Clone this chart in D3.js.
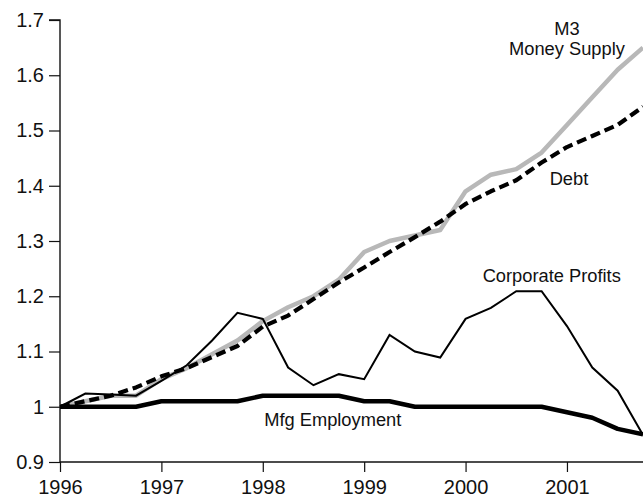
<!DOCTYPE html>
<html>
<head>
<meta charset="utf-8">
<script src="https://cdn.jsdelivr.net/npm/d3@7"></script>
<style>
  html, body { margin: 0; padding: 0; background: #fff; }
  svg { display: block; font-family: "Liberation Sans", Arial, Helvetica, sans-serif; }
</style>
</head>
<body>
<svg id="chart" width="643" height="498"></svg>
<script>
// Quarterly dates, 1996 Q1 .. 2001 Q4 (index = 1996 Q1 = 1.0)
const quarters = [1996.0, 1996.25, 1996.5, 1996.75, 1997.0, 1997.25, 1997.5, 1997.75,
                  1998.0, 1998.25, 1998.5, 1998.75, 1999.0, 1999.25, 1999.5, 1999.75,
                  2000.0, 2000.25, 2000.5, 2000.75, 2001.0, 2001.25, 2001.5, 2001.75];

const m3MoneySupply = [1.00, 1.01, 1.02, 1.02, 1.05, 1.07, 1.095, 1.12,
                       1.155, 1.18, 1.20, 1.23, 1.28, 1.30, 1.31, 1.32,
                       1.39, 1.42, 1.43, 1.46, 1.51, 1.56, 1.61, 1.65];

const debt = [1.00, 1.01, 1.02, 1.035, 1.055, 1.07, 1.09, 1.11,
              1.145, 1.165, 1.195, 1.225, 1.252, 1.28, 1.307, 1.335,
              1.367, 1.39, 1.41, 1.442, 1.47, 1.49, 1.51, 1.543];

const corporateProfits = [1.00, 1.024, 1.022, 1.02, 1.047, 1.075, 1.12, 1.17,
                          1.159, 1.071, 1.039, 1.059, 1.05, 1.13, 1.10, 1.089,
                          1.159, 1.179, 1.209, 1.209, 1.146, 1.071, 1.029, 0.949];

const mfgEmployment = [1.00, 1.00, 1.00, 1.00, 1.01, 1.01, 1.01, 1.01,
                       1.02, 1.02, 1.02, 1.02, 1.01, 1.01, 1.00, 1.00,
                       1.00, 1.00, 1.00, 1.00, 0.99, 0.98, 0.96, 0.95];

const xTicks = [1996, 1997, 1998, 1999, 2000, 2001];
const yTicks = [0.9, 1.0, 1.1, 1.2, 1.3, 1.4, 1.5, 1.6, 1.7];

const seriesLabels = [
  { lines: ["M3", "Money Supply"], x: 2001.0, y: 1.673 },
  { lines: ["Debt"], x: 2001.02, y: 1.401 },
  { lines: ["Corporate Profits"], x: 2000.85, y: 1.225 },
  { lines: ["Mfg Employment"], x: 1998.69, y: 0.965 }
];

const svg = d3.select("#chart");
const x = d3.scaleLinear().domain([1996, 2001.75]).range([60, 643]);
const y = d3.scaleLinear().domain([0.9, 1.7]).range([462, 20]);

const line = vals => d3.line()
  .x((d, i) => x(quarters[i]))
  .y(d => y(d))(vals);

// Axes
const yAxis = d3.axisLeft(y).tickValues(yTicks)
  .tickFormat(d => d === 1 ? "1" : d3.format(".1f")(d))
  .tickSize(11).tickPadding(5);
const gy = svg.append("g").attr("transform", `translate(${x(1996)},0)`).call(yAxis);
gy.select(".domain").attr("d", `M-11,${y(1.7)}H0V${y(0.9)}`);

const xAxis = d3.axisBottom(x).tickValues(xTicks).tickFormat(d3.format("d"))
  .tickSize(10).tickPadding(8);
const gx = svg.append("g").attr("transform", `translate(0,${y(0.9)})`).call(xAxis);
gx.select(".domain").attr("d", `M${x(1996)},0H643`);

[gx, gy].forEach(g => {
  g.selectAll(".domain").attr("stroke", "#111").attr("stroke-width", 1.4);
  g.selectAll(".tick line").attr("stroke", "#111").attr("stroke-width", 1.2);
  g.selectAll(".tick text").attr("fill", "#111").style("font-size", "20px")
    .style("font-family", '"Liberation Sans", Arial, sans-serif');
});

// Series
svg.append("path").attr("d", line(m3MoneySupply))
  .attr("fill", "none").attr("stroke", "#b8b8b8").attr("stroke-width", 4.5)
  .attr("stroke-linejoin", "round");

svg.append("path").attr("d", line(debt))
  .attr("fill", "none").attr("stroke", "#000").attr("stroke-width", 4.2)
  .attr("stroke-dasharray", "10,5").attr("stroke-linejoin", "round");

svg.append("path").attr("d", line(corporateProfits))
  .attr("fill", "none").attr("stroke", "#000").attr("stroke-width", 2)
  .attr("stroke-linejoin", "miter");

svg.append("path").attr("d", line(mfgEmployment))
  .attr("fill", "none").attr("stroke", "#000").attr("stroke-width", 4.5)
  .attr("stroke-linejoin", "round");

// Labels
seriesLabels.forEach(l => {
  const t = svg.append("text")
    .attr("x", x(l.x)).attr("y", y(l.y))
    .attr("text-anchor", "middle")
    .attr("fill", "#111")
    .style("font-size", "18.3px");
  l.lines.forEach((s, i) => {
    t.append("tspan").attr("x", x(l.x)).attr("dy", i === 0 ? 0 : 20).text(s);
  });
});
</script>
</body>
</html>
